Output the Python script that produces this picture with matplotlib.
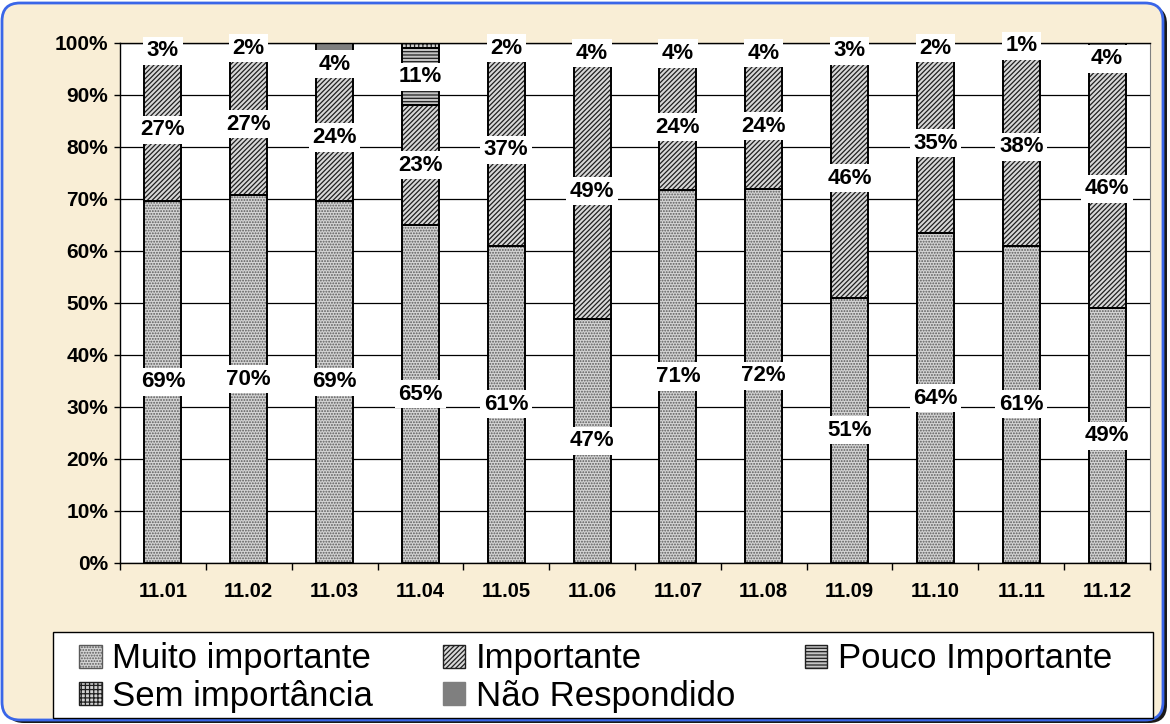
"""
plot.py

Stacked 100% bar chart of importance ratings per question (11.01 - 11.12).
"""
import matplotlib

matplotlib.use("Agg")

import matplotlib.pyplot as plt
import numpy as np
from matplotlib.patches import FancyBboxPatch, Patch, Rectangle
from matplotlib.transforms import IdentityTransform

OUTPUT_PATH = "out.png"

categories = ["11.01", "11.02", "11.03", "11.04", "11.05", "11.06",
              "11.07", "11.08", "11.09", "11.10", "11.11", "11.12"]
muito = [69, 70, 69, 65, 61, 47, 71, 72, 51, 64, 61, 49]
importante = [27, 27, 24, 23, 37, 49, 24, 24, 46, 35, 38, 46]
pouco = [3, 2, 4, 11, 2, 4, 4, 4, 3, 2, 1, 4]
sem = [0, 0, 0, 1, 0, 0, 0, 0, 0, 0, 0, 0]
nao = [0, 0, 2, 0, 0, 0, 0, 0, 0, 0, 0, 1]
series_names = ["Muito importante", "Importante", "Pouco Importante",
                "Sem importância", "Não Respondido"]
y_ticks = [0, 10, 20, 30, 40, 50, 60, 70, 80, 90, 100]

plt.rcParams["font.family"] = ["Liberation Sans", "DejaVu Sans"]
plt.rcParams["hatch.linewidth"] = 0.9

# fill, hatch, hatch colour per series
styles = [
    ("#d4d4d4", "......", "#5a5a5a"),
    ("#d8d8d8", "///////", "#202020"),
    ("#c4c4c4", "-----", "#202020"),
    ("#d0d0d0", "++++", "#202020"),
    ("#7f7f7f", "", "#7f7f7f"),
]

fig = plt.figure(figsize=(11.7, 7.24), dpi=100, facecolor="white")

# cream panel with blue rounded border and dark shadow (pixel coords)
shadow = FancyBboxPatch((6, 1), 1161, 717, boxstyle="round,pad=0,rounding_size=18",
                        transform=IdentityTransform(), facecolor="#1a1a1a",
                        edgecolor="none", zorder=-2)
panel = FancyBboxPatch((2, 4), 1161, 717, boxstyle="round,pad=0,rounding_size=18",
                       transform=IdentityTransform(), facecolor="#f9eed6",
                       edgecolor="#3a66e8", linewidth=2, zorder=-1)
legend_box = Rectangle((53, 6), 1100, 86, transform=IdentityTransform(),
                       facecolor="white", edgecolor="black", linewidth=1, zorder=0)
fig.patches.extend([shadow, panel, legend_box])

ax = fig.add_axes([120 / 1170, 1 - 563 / 724, 1030 / 1170, 520 / 724])
ax.set_facecolor("white")

data = np.array([muito, importante, pouco, sem, nao], dtype=float)
shares = data / data.sum(axis=0) * 100
x = np.arange(len(categories))
width = 0.43

bottom = np.zeros(len(categories))
for i, (vals, (fc, hatch, hc)) in enumerate(zip(shares, styles)):
    ax.bar(x, vals, width, bottom=bottom, color=fc, hatch=hatch,
           edgecolor=hc, linewidth=0, zorder=2)
    ax.bar(x, vals, width, bottom=bottom, fill=False, edgecolor="black",
           linewidth=1.4, zorder=3)
    # labels only for the first three series
    if i < 3:
        for xi, v, b, raw in zip(x, vals, bottom, data[i]):
            if raw > 0:
                ax.text(xi, b + v / 2, f"{int(raw)}%", ha="center", va="center",
                        fontsize=16, fontweight="bold", zorder=4,
                        bbox=dict(facecolor="white", edgecolor="none", pad=2.5))
    bottom += vals

ax.set_xlim(-0.5, len(categories) - 0.5)
ax.set_ylim(0, 100)
ax.set_yticks(y_ticks)
ax.set_yticklabels([f"{t}%" for t in y_ticks])
ax.yaxis.grid(True, color="black", linewidth=0.9, zorder=0)
ax.set_axisbelow(True)

ax.set_xticks(x)
ax.set_xticklabels(categories)
ax.set_xticks(np.arange(-0.5, len(categories), 1), minor=True)
ax.tick_params(axis="x", which="major", length=0, pad=14)
ax.tick_params(axis="x", which="minor", length=5, width=1, direction="out")
ax.tick_params(axis="y", length=4.5, width=1, pad=4)
for lab in ax.get_yticklabels():
    lab.set_fontweight("bold")
    lab.set_fontsize(15)
for lab in ax.get_xticklabels():
    lab.set_fontweight("bold")
    lab.set_fontsize(14.5)

for side in ["left", "bottom", "top"]:
    ax.spines[side].set_color("black")
    ax.spines[side].set_linewidth(1.0)
ax.spines["right"].set_color("#808080")

# legend reads row by row, so reorder for matplotlib's column filling
handles = [Patch(facecolor=fc, hatch=hatch, edgecolor=hc, linewidth=1)
           for fc, hatch, hc in styles]
order = [0, 3, 1, 4, 2]
leg = fig.legend([handles[k] for k in order], [series_names[k] for k in order],
                 loc="upper left", ncol=3,
                 bbox_to_anchor=(76 / 1170, 85 / 724),
                 fontsize=25, frameon=False, handlelength=0.65, handleheight=0.65,
                 handletextpad=0.3, labelspacing=0.12, columnspacing=2.0,
                 borderpad=0.1, borderaxespad=0)
leg.set_zorder(5)

fig.savefig(OUTPUT_PATH, dpi=100, facecolor=fig.get_facecolor())
print(f"Saved graph to {OUTPUT_PATH}")
